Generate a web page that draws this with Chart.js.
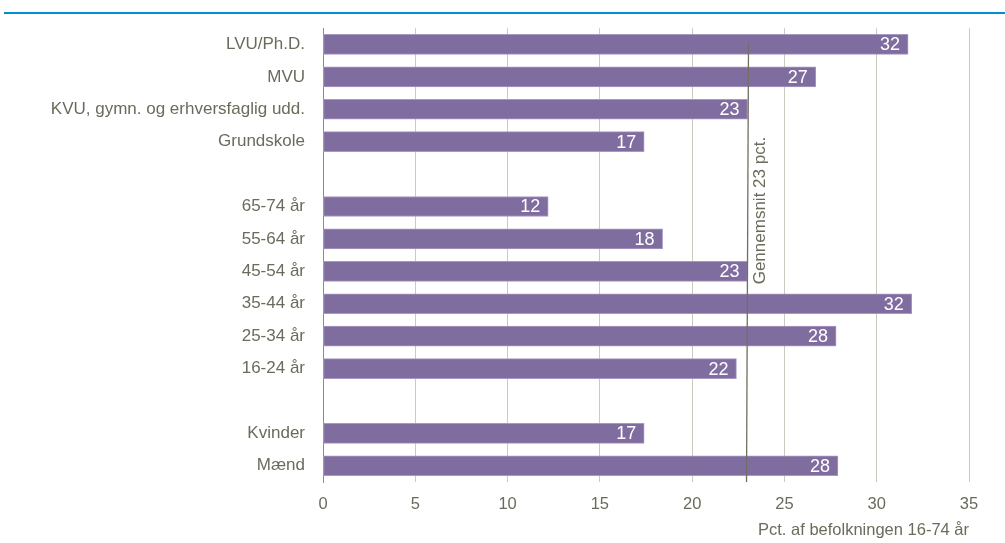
<!DOCTYPE html>
<html>
<head>
<meta charset="utf-8">
<script src="https://cdn.jsdelivr.net/npm/chart.js@4/dist/chart.umd.min.js"></script>
<style>
  body { margin: 0; background: #fff; }
  #wrap { width: 1005px; height: 543px; }
</style>
</head>
<body>
<div id="wrap"><canvas id="c" width="1005" height="543"></canvas></div>
<script>
const categories = ['LVU/Ph.D.', 'MVU', 'KVU, gymn. og erhversfaglig udd.', 'Grundskole', '',
  '65-74 år', '55-64 år', '45-54 år', '35-44 år', '25-34 år', '16-24 år', '',
  'Kvinder', 'Mænd'];
const values = [31.7, 26.7, 23.0, 17.4, null, 12.2, 18.4, 23.0, 31.9, 27.8, 22.4, null, 17.4, 27.9];
const average = 23.0;
const averageLabel = 'Gennemsnit 23 pct.';
const xTitle = 'Pct. af befolkningen 16-74 år';

const FONT = '"Liberation Sans Narrow", "Arial Narrow", "Liberation Sans", Arial, sans-serif';
const textGrey = '#6b6b5c';

// blue rule at the top of the figure
const topRule = {
  id: 'topRule',
  beforeDraw(chart) {
    const ctx = chart.ctx;
    ctx.save();
    ctx.fillStyle = '#008fd0';
    ctx.fillRect(4, 12, chart.width - 4, 2);
    ctx.restore();
  }
};

// white value labels inside bar ends + average line
const extras = {
  id: 'extras',
  afterDatasetsDraw(chart) {
    const ctx = chart.ctx;
    const meta = chart.getDatasetMeta(0);
    ctx.save();
    ctx.font = '18px ' + FONT;
    ctx.fillStyle = '#ffffff';
    ctx.textAlign = 'right';
    ctx.textBaseline = 'middle';
    meta.data.forEach((bar, i) => {
      if (values[i] == null) return;
      ctx.fillText(Math.round(values[i]), bar.x - 8, bar.y + 1);
    });

    const x = chart.scales.x.getPixelForValue(average);
    const yTop = chart.scales.y.getPixelForValue(0) - 2;
    const yBot = chart.chartArea.bottom;
    ctx.strokeStyle = '#6f6f62';
    ctx.lineWidth = 1.3;
    ctx.beginPath();
    ctx.moveTo(x + 1, yTop);
    ctx.lineTo(x - 1, yBot);
    ctx.stroke();

    const yLab = chart.scales.y.getPixelForValue(7) + 13;
    ctx.translate(x + 17, yLab);
    ctx.rotate(-Math.PI / 2);
    ctx.fillStyle = textGrey;
    ctx.textAlign = 'left';
    ctx.textBaseline = 'alphabetic';
    ctx.font = '17px ' + FONT;
    ctx.fillText(averageLabel, 0, 0);
    ctx.restore();
  }
};

new Chart(document.getElementById('c'), {
  type: 'bar',
  data: {
    labels: categories,
    datasets: [{
      data: values,
      backgroundColor: '#806d9f',
      borderColor: '#a899c2',
      borderWidth: 1,
      borderSkipped: false,
      barThickness: 20
    }]
  },
  options: {
    indexAxis: 'y',
    responsive: false,
    animation: false,
    layout: { padding: { top: 22, right: 36, left: 0, bottom: 0 } },
    plugins: {
      legend: { display: false },
      tooltip: { enabled: false }
    },
    scales: {
      x: {
        min: 0, max: 35,
        ticks: { stepSize: 5, color: textGrey, font: { family: FONT, size: 16.5 }, padding: 13 },
        grid: { color: '#cacabe', lineWidth: 1, drawTicks: false },
        border: { display: false },
        title: {
          display: true, text: xTitle, align: 'end', color: textGrey,
          font: { family: FONT, size: 16.5 }, padding: { top: 0, bottom: 3 }
        },
        afterFit(scale) { scale.height = 61; }
      },
      y: {
        ticks: { color: textGrey, font: { family: FONT, size: 17 }, padding: 18, autoSkip: false },
        grid: { display: false, drawTicks: false },
        border: { display: true, color: '#8c8c80', width: 1 },
        afterFit(scale) { scale.width = 323; }
      }
    }
  },
  plugins: [topRule, extras]
});
</script>
</body>
</html>
